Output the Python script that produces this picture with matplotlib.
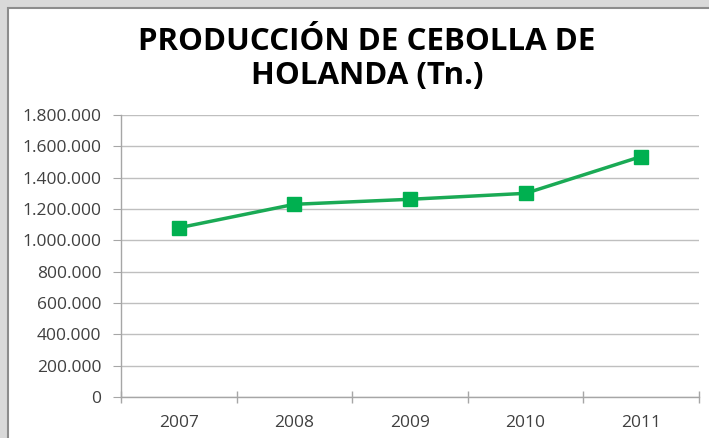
import matplotlib
matplotlib.use("Agg")
import matplotlib.pyplot as plt
from matplotlib.patches import Rectangle
from matplotlib.ticker import FuncFormatter, FixedLocator

years = ["2007", "2008", "2009", "2010", "2011"]
production = [1080000, 1230000, 1262000, 1300000, 1535000]
y_ticks = [0, 200000, 400000, 600000, 800000, 1000000, 1200000, 1400000, 1600000, 1800000]
title = "PRODUCCIÓN DE CEBOLLA DE\nHOLANDA (Tn.)"

W, H = 709, 438
fig = plt.figure(figsize=(W / 100, H / 100), dpi=100)
fig.patch.set_facecolor("#d9d9d9")
panel = Rectangle((8 / W, -0.05), 1.2, 1 - 8 / H + 0.05, transform=fig.transFigure,
                  facecolor="white", edgecolor="#8c8c8c", linewidth=1.5, zorder=-5)
fig.patches.append(panel)

ax = fig.add_axes([121 / W, 1 - 397 / H, (699 - 121) / W, (397 - 115) / H])
ax.set_zorder(2)
ax.set_facecolor("none")
x = list(range(len(years)))
ax.plot(x, production, color="#1aaa55", linewidth=2.5, marker="s", markersize=10,
        markerfacecolor="#00b050", markeredgecolor="#00b050", zorder=3, clip_on=False)

ax.set_xlim(-0.5, len(years) - 0.5)
ax.set_ylim(0, 1800000)
ax.set_yticks(y_ticks)
ax.yaxis.set_major_formatter(FuncFormatter(lambda v, p: f"{int(v):,}".replace(",", ".")))
ax.set_xticks(x)
ax.set_xticklabels(years)
ax.xaxis.set_minor_locator(FixedLocator([i - 0.5 for i in range(len(years) + 1)]))
ax.tick_params(axis="x", which="major", length=0, pad=13, labelsize=12.5, labelcolor="#404040")
ax.tick_params(axis="x", which="minor", length=8, direction="inout", color="#a6a6a6", width=1)
ax.tick_params(axis="y", which="major", length=6, direction="out", color="#a6a6a6",
               pad=8, labelsize=12.5, labelcolor="#404040")
for lab in ax.get_xticklabels() + ax.get_yticklabels():
    lab.set_family("Open Sans")

ax.grid(axis="y", color="#bfbfbf", linewidth=1)
ax.set_axisbelow(True)
for s in ["top", "right"]:
    ax.spines[s].set_visible(False)
for s in ["left", "bottom"]:
    ax.spines[s].set_color("#a6a6a6")
    ax.spines[s].set_linewidth(1)

fig.text(367 / W, 1 - 59 / H, title, ha="center", va="center", fontsize=22.5,
         fontweight="bold", family="Open Sans", color="#000000", linespacing=1.2)

fig.savefig("out.png", dpi=100, facecolor=fig.get_facecolor())
